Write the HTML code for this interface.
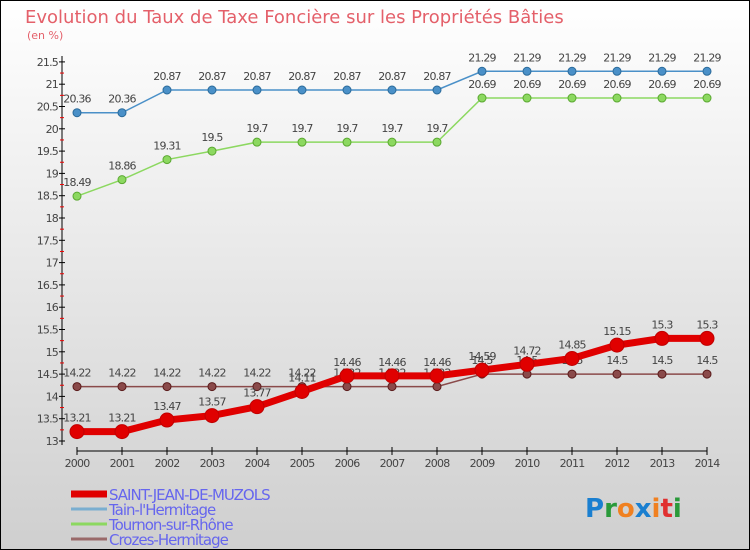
<!DOCTYPE html>
<html><head><meta charset="utf-8"><style>
body{margin:0;}
#c{width:750px;height:550px;position:relative;overflow:hidden;background:linear-gradient(#ffffff,#cfcfcf);border:1px solid #000;box-sizing:border-box;font-family:"DejaVu Sans","Liberation Sans",sans-serif;}
text{font-family:"DejaVu Sans","Liberation Sans",sans-serif;}
</style></head><body>
<div id="c">
<svg id="s" width="750" height="550"></svg>
</div>
<script>
const years=[2000,2001,2002,2003,2004,2005,2006,2007,2008,2009,2010,2011,2012,2013,2014];
const saint=[13.21,13.21,13.47,13.57,13.77,14.11,14.46,14.46,14.46,14.59,14.72,14.85,15.15,15.3,15.3];
const tain=[20.36,20.36,20.87,20.87,20.87,20.87,20.87,20.87,20.87,21.29,21.29,21.29,21.29,21.29,21.29];
const tournon=[18.49,18.86,19.31,19.5,19.7,19.7,19.7,19.7,19.7,20.69,20.69,20.69,20.69,20.69,20.69];
const crozes=[14.22,14.22,14.22,14.22,14.22,14.22,14.22,14.22,14.22,14.5,14.5,14.5,14.5,14.5,14.5];
const yTicks=[13,13.5,14,14.5,15,15.5,16,16.5,17,17.5,18,18.5,19,19.5,20,20.5,21,21.5];
const names=["SAINT-JEAN-DE-MUZOLS","Tain-l'Hermitage","Tournon-sur-Rhône","Crozes-Hermitage"];
const s=document.getElementById('s');const NS='http://www.w3.org/2000/svg';
function X(i){return 76+i*45;}
function Y(v){return 440-(v-13)*44.6;}
function el(t,a,p){const e=document.createElementNS(NS,t);for(const k in a)e.setAttribute(k,a[k]);(p||s).appendChild(e);return e;}
let t=el('text',{x:24,y:22,'font-size':18,fill:'#e4606a'});t.textContent='Evolution du Taux de Taxe Foncière sur les Propriétés Bâties';


t=el('text',{x:26,y:38,'font-size':11,fill:'#e4606a'});t.textContent='(en %)';


let a=el('line',{x1:61,y1:55,x2:61,y2:444,stroke:'#000'});


a=el('line',{x1:76,y1:450,x2:706,y2:450,stroke:'#000'});


yTicks.forEach(v=>{const y=Y(v);el('line',{x1:58,y1:y,x2:64,y2:y,stroke:'#000'});
if(v>13)el('line',{x1:59,y1:y+11.15,x2:63,y2:y+11.15,stroke:'#e00'});
const tt=el('text',{x:57,y:y+4,'font-size':11,'text-anchor':'end',fill:'#444','letter-spacing':'-0.8'});tt.textContent=v;

});
years.forEach((yr,i)=>{el('line',{x1:X(i),y1:446,x2:X(i),y2:454,stroke:'#000'});
const tt=el('text',{x:X(i),y:466,'font-size':11,'text-anchor':'middle',fill:'#444','letter-spacing':'-0.8'});tt.textContent=yr;

});
function series(d,col,dark,w,r,nm){const g=el('g',{});


el('polyline',{points:d.map((v,i)=>X(i)+','+Y(v)).join(' '),fill:'none',stroke:col,'stroke-width':w},g);
d.forEach((v,i)=>{el('circle',{cx:X(i),cy:Y(v),r:r,fill:col,stroke:dark,'stroke-width':1},g);
const tt=el('text',{x:X(i),y:Y(v)-10,'font-size':11,'text-anchor':'middle',fill:'#444','letter-spacing':'-0.8'},g);tt.textContent=v;});}
series(tain,'#4a90c8','#2a6a9a',1.5,4,'series-tain');
series(tournon,'#8cd860','#5aa830',1.5,4,'series-tournon');
series(crozes,'#8a4a4a','#5a1a1a',1.5,4,'series-crozes');
series(saint,'#e00000','#c00000',7,7,'series-saint-jean');
const lc=['#e00000','#7aaed0','#8cd860','#9a6a6a'],lw=[7,3,3,3];
names.forEach((n,i)=>{const y=493+i*15;const g=el('g',{});


el('line',{x1:70,y1:y,x2:106,y2:y,stroke:lc[i],'stroke-width':lw[i]},g);
const tt=el('text',{x:108,y:y+6,'font-size':15,fill:'#6666ee','letter-spacing':'-1'},g);tt.textContent=n;});
const lg=el('text',{x:584,y:516,'font-size':26,'font-weight':'bold'});


[['P','#1a7fd0'],['r','#2a9a3a'],['o','#f08020'],['x','#1a7fd0'],['i','#f08020'],['t','#e03030'],['i','#2a9a3a']].forEach(([c,f])=>{const sp=el('tspan',{fill:f},lg);sp.textContent=c;});
</script>
</body></html>
